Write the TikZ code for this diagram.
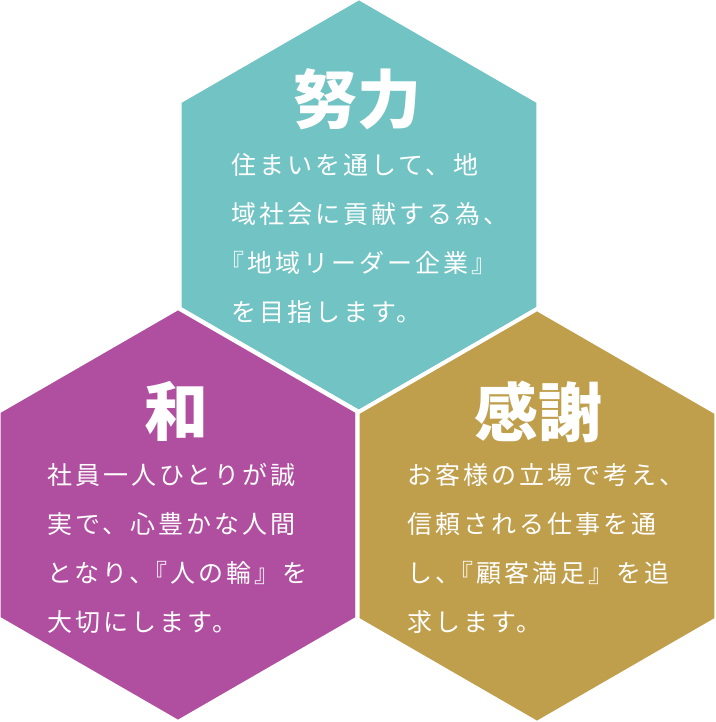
\documentclass[tikz,border=0pt]{standalone}
\usepackage{fontspec}
\setmainfont{Noto Sans CJK JP}
\newfontfamily\bodyfont[LetterSpace=12]{Noto Sans CJK JP}
\usetikzlibrary{positioning, shapes.geometric}

\definecolor{doryokuTeal}{HTML}{72C3C4}
\definecolor{waPurple}{HTML}{B04EA0}
\definecolor{kanshaGold}{HTML}{C09F4C}

% half-width kerning before an opening bracket
\newcommand{\kernq}{\hspace*{-12pt}}

\begin{document}
\begin{tikzpicture}[
		x=1pt, y=-1pt,
		hexa/.style={regular polygon, regular polygon sides=6, shape border rotate=30,
			minimum size=414pt, inner sep=0pt, outer sep=0pt, draw=white, line width=4pt},
		title/.style={text=white, inner sep=0pt, font=\fontsize{64}{64}\selectfont\bfseries},
		body/.style={text=white, inner sep=0pt, anchor=north west, align=left,
			font=\bodyfont\fontsize{25}{49}\selectfont},
	]
	\useasboundingbox (0,0) rectangle (715,722);

	% three hexagons
	\node[hexa, fill=doryokuTeal] (hexTop) at (359,205) {};
	\node[hexa, fill=waPurple] (hexLeft) at (178,515) {};
	\node[hexa, fill=kanshaGold] (hexRight) at (537,516) {};

	% titles
	\node[title] (titleTop) at (357,99) {努力};
	\node[title] (titleLeft) at (176,411) {和};
	\node[title] (titleRight) at (538,412) {感謝};

	% texts
	\node[body] (textTop) at (231,153) {%
		住まいを通して、地\\
		域社会に貢献する為、\\
		\kernq『地域リーダー企業』\\
		を目指します。};
	\node[body] (textLeft) at (47,463) {%
		社員一人ひとりが誠\\
		実で、心豊かな人間\\
		となり、\kernq『人の輪』を\\
		大切にします。};
	\node[body] (textRight) at (407,463) {%
		お客様の立場で考え、\\
		信頼される仕事を通\\
		し、\kernq『顧客満足』を追\\
		求します。};
\end{tikzpicture}
\end{document}
